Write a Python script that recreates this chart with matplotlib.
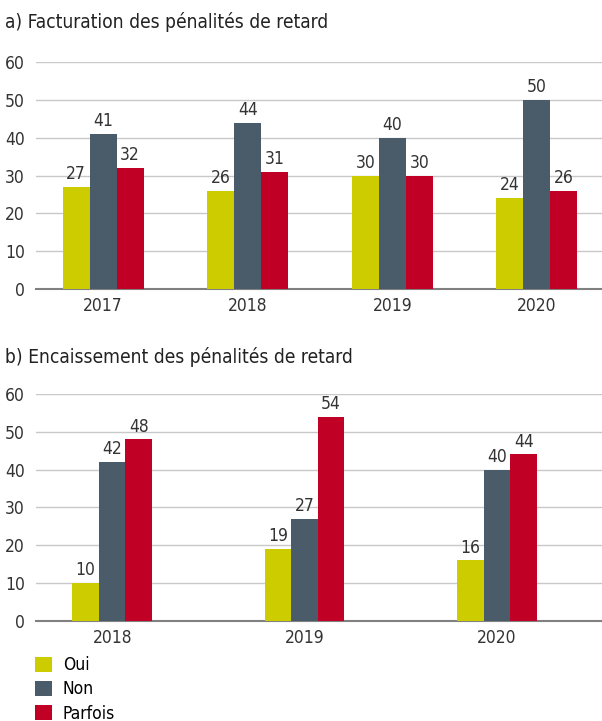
import numpy as np
import matplotlib.pyplot as plt
from matplotlib.patches import Patch

plt.rcParams["font.family"] = ["DejaVu Sans"]
plt.rcParams["font.stretch"] = "condensed"

series = ["Oui", "Non", "Parfois"]
colors = ["#CCCC00", "#4A5B69", "#C10026"]

years_a = ["2017", "2018", "2019", "2020"]
oui_a = [27, 26, 30, 24]
non_a = [41, 44, 40, 50]
parfois_a = [32, 31, 30, 26]

years_b = ["2018", "2019", "2020"]
oui_b = [10, 19, 16]
non_b = [42, 27, 40]
parfois_b = [48, 54, 44]

title_a = "a) Facturation des pénalités de retard"
title_b = "b) Encaissement des pénalités de retard"


def draw_panel(ax, years, values, width, xlim):
    x = np.arange(len(years))
    for k, (vals, col) in enumerate(zip(values, colors)):
        pos = x + (k - 1) * width
        ax.bar(pos, vals, width=width, color=col, zorder=3)
        for p, v in zip(pos, vals):
            ax.text(p, v + 1.0, str(v), ha="center", va="bottom",
                    fontsize=12.5, color="#333333")
    ax.set_xlim(*xlim)
    ax.set_ylim(0, 60)
    ax.set_yticks(range(0, 61, 10))
    ax.set_xticks(x)
    ax.set_xticklabels(years)
    ax.grid(axis="y", color="#c8c8c8", linewidth=1, zorder=0)
    for s in ["top", "right", "left"]:
        ax.spines[s].set_visible(False)
    ax.spines["bottom"].set_color("#808080")
    ax.spines["bottom"].set_linewidth(1.5)
    ax.tick_params(axis="both", length=0, labelsize=12.5, colors="#333333")
    ax.tick_params(axis="x", pad=6)
    ax.tick_params(axis="y", pad=8)


fig = plt.figure(figsize=(6.02, 7.21), dpi=100)

ax1 = fig.add_axes([0.06, 0.599, 0.94, 0.315])
draw_panel(ax1, years_a, [oui_a, non_a, parfois_a], 0.187, (-0.463, 3.45))
fig.text(0.008, 0.97, title_a, fontsize=13.8, color="#222222", va="center")

ax2 = fig.add_axes([0.06, 0.139, 0.94, 0.3145])
draw_panel(ax2, years_b, [oui_b, non_b, parfois_b], 0.138, (-0.395, 2.545))
fig.text(0.008, 0.505, title_b, fontsize=13.8, color="#222222", va="center")

handles = [Patch(facecolor=c, label=s) for c, s in zip(colors, series)]
fig.legend(handles=handles, loc="lower left", bbox_to_anchor=(0.038, -0.019),
           frameon=False, fontsize=12.5, handlelength=1.0, handleheight=1.0,
           labelspacing=0.35, handletextpad=0.6, borderpad=0.2)

fig.savefig("out.png", dpi=100)
